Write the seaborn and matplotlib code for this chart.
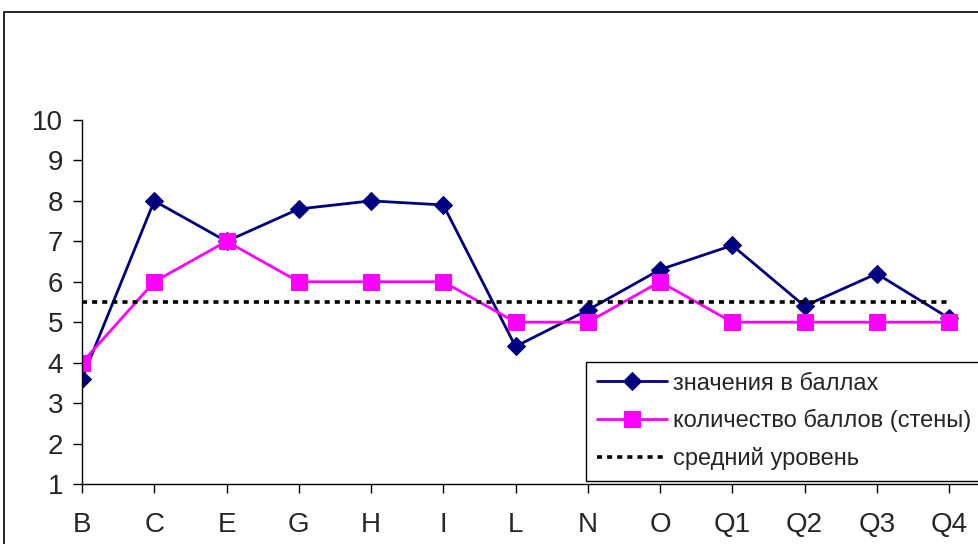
import matplotlib
matplotlib.use("Agg")
import matplotlib.pyplot as plt
import seaborn as sns
import pandas as pd
from matplotlib.patches import Rectangle

categories = ["B", "C", "E", "G", "H", "I", "L", "N", "O", "Q1", "Q2", "Q3", "Q4"]
values_points = [3.6, 8.0, 7.0, 7.8, 8.0, 7.9, 4.4, 5.3, 6.3, 6.9, 5.4, 6.2, 5.1]
values_walls = [4, 6, 7, 6, 6, 6, 5, 5, 6, 5, 5, 5, 5]
mean_level = [5.5] * len(categories)
y_ticks = [1, 2, 3, 4, 5, 6, 7, 8, 9, 10]

label_points = "значения в баллах"
label_walls = "количество баллов (стены)"
label_mean = "средний уровень"

sns.set_theme(style="white")
plt.rcParams["font.family"] = ["Liberation Sans", "DejaVu Sans"]

W, H = 979, 544
fig = plt.figure(figsize=(W / 100, H / 100), dpi=100)
ax = fig.add_axes([82 / W, (H - 484) / H, 1 - 82 / W, (484 - 120) / H])

df = pd.DataFrame({"cat": categories, "points": values_points,
                   "walls": values_walls, "mean": mean_level})
df["pos"] = range(len(categories))

sns.lineplot(data=df, x="pos", y="points", ax=ax, color="#000080", lw=2,
             marker="D", markersize=9, markeredgecolor="#000080",
             label=label_points, sort=False)
sns.lineplot(data=df, x="pos", y="walls", ax=ax, color="#FF00FF", lw=2,
             marker="s", markersize=11, markeredgecolor="#FF00FF",
             label=label_walls, sort=False)
sns.lineplot(data=df, x="pos", y="mean", ax=ax, color="black", lw=2.6,
             linestyle=(0, (1.4, 1.4)), label=label_mean, sort=False)

ax.set_xlim(0, (W - 82) / 72.25)
ax.set_ylim(1, 10)
ax.set_xticks(df["pos"])
ax.set_xticklabels(categories)
ax.set_yticks(y_ticks)
ax.set_xlabel("")
ax.set_ylabel("")
for s in ["top", "right"]:
    ax.spines[s].set_visible(False)
for s in ["left", "bottom"]:
    ax.spines[s].set_color("#000000")
    ax.spines[s].set_linewidth(1)
ax.tick_params(axis="x", direction="out", length=6.5, width=1, color="black",
               labelsize=20, pad=14, bottom=True)
ax.tick_params(axis="y", direction="out", length=6.5, width=1, color="black",
               labelsize=20, pad=7, left=True)
ax.set_facecolor("white")

ax.get_legend().remove()
handles, labels = ax.get_legend_handles_labels()
leg = fig.legend(handles, labels, loc="upper left",
                 bbox_to_anchor=(586 / W, (H - 362) / H),
                 bbox_transform=fig.transFigure,
                 fontsize=17, frameon=True, fancybox=False, shadow=False,
                 borderaxespad=0, borderpad=0.45, handlelength=3.0,
                 handletextpad=0.25, labelspacing=0.62)
leg.get_frame().set_edgecolor("black")
leg.get_frame().set_linewidth(1)
leg.get_frame().set_facecolor("white")
leg.get_frame().set_alpha(1)

# chart area border
fig.patches.append(Rectangle((4 / W, -0.1), 1.2, (H - 12) / H + 0.1,
                             transform=fig.transFigure, fill=False,
                             edgecolor="black", linewidth=1.2, zorder=0))

fig.savefig("out.png", dpi=100, facecolor="white")
